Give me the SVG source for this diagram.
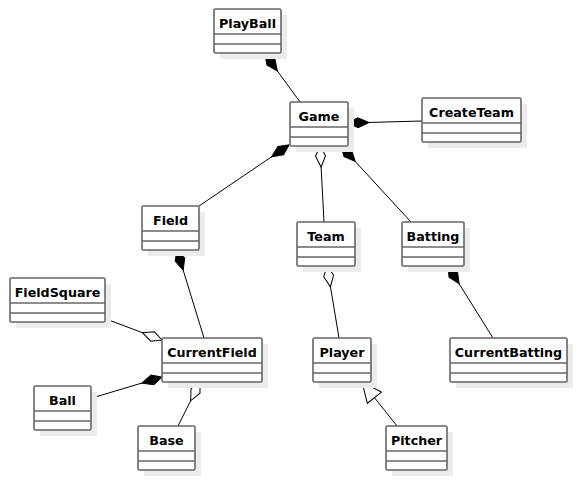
<svg xmlns="http://www.w3.org/2000/svg" width="577" height="480" viewBox="0 0 577 480">
<style>
.shadow{fill:#ebebeb;stroke:none}
.box{fill:#ffffff;stroke:#666666;stroke-width:1.6}
.sep{stroke:#666666;stroke-width:1.6}
.title{font-family:"DejaVu Sans",sans-serif;font-weight:bold;font-size:12.7px;fill:#000;text-anchor:middle}
.conn{stroke:#000;stroke-width:1;fill:none}
.comp{marker-start:url(#comp)}
.aggr{marker-start:url(#aggr)}
.gen{marker-start:url(#gen)}
</style>
<defs>
<marker id="comp" markerUnits="userSpaceOnUse" markerWidth="30" markerHeight="30" refX="5" refY="15" orient="auto" overflow="visible">
<path d="M5,15 L15,10 L26,15 L15,20 Z" fill="#000" stroke="#000" stroke-width="1"/>
</marker>
<marker id="aggr" markerUnits="userSpaceOnUse" markerWidth="30" markerHeight="30" refX="5" refY="15" orient="auto" overflow="visible">
<path d="M5,15 L15,10 L26,15 L15,20 Z" fill="#fff" stroke="#000" stroke-width="1"/>
</marker>
<marker id="gen" markerUnits="userSpaceOnUse" markerWidth="30" markerHeight="30" refX="5" refY="15" orient="auto" overflow="visible">
<path d="M5,15 L25,6 L25,24 Z" fill="#fff" stroke="#000" stroke-width="1"/>
</marker>
</defs>
<g id="connectors">
<path class="conn comp" d="M265,54 L300,102"/>
<path class="conn comp" d="M348,123 L422,121"/>
<path class="conn comp" d="M289,145 L199,206"/>
<path class="conn aggr" d="M320,146 L324,222"/>
<path class="conn comp" d="M341,146 L411,222"/>
<path class="conn comp" d="M177,250 L204,338"/>
<path class="conn aggr" d="M162,340 L106,319"/>
<path class="conn comp" d="M162,377 L92,398"/>
<path class="conn aggr" d="M200,382 L178,426"/>
<path class="conn aggr" d="M327,266 L339,338"/>
<path class="conn comp" d="M448,266 L493,338"/>
<path class="conn gen" d="M362,382 L397,426"/>
</g>
<g id="PlayBall"><rect class="shadow" x="220" y="15" width="67" height="44"/><rect class="box" x="214" y="9" width="67" height="44" rx="1.5"/><line class="sep" x1="214" y1="34" x2="281" y2="34"/><line class="sep" x1="214" y1="44" x2="281" y2="44"/><text class="title" x="247.5" y="27.5">PlayBall</text></g>
<g id="Game"><rect class="shadow" x="296" y="108" width="58" height="44"/><rect class="box" x="290" y="102" width="58" height="44" rx="1.5"/><line class="sep" x1="290" y1="127" x2="348" y2="127"/><line class="sep" x1="290" y1="137" x2="348" y2="137"/><text class="title" x="319" y="120.5">Game</text></g>
<g id="CreateTeam"><rect class="shadow" x="428" y="104" width="99" height="44"/><rect class="box" x="422" y="98" width="99" height="44" rx="1.5"/><line class="sep" x1="422" y1="123" x2="521" y2="123"/><line class="sep" x1="422" y1="133" x2="521" y2="133"/><text class="title" x="471.5" y="116.5">CreateTeam</text></g>
<g id="Field"><rect class="shadow" x="148" y="212" width="57" height="44"/><rect class="box" x="142" y="206" width="57" height="44" rx="1.5"/><line class="sep" x1="142" y1="231" x2="199" y2="231"/><line class="sep" x1="142" y1="241" x2="199" y2="241"/><text class="title" x="170.5" y="224.5">Field</text></g>
<g id="Team"><rect class="shadow" x="303" y="228" width="58" height="44"/><rect class="box" x="297" y="222" width="58" height="44" rx="1.5"/><line class="sep" x1="297" y1="247" x2="355" y2="247"/><line class="sep" x1="297" y1="257" x2="355" y2="257"/><text class="title" x="326" y="240.5">Team</text></g>
<g id="Batting"><rect class="shadow" x="408" y="228" width="62" height="44"/><rect class="box" x="402" y="222" width="62" height="44" rx="1.5"/><line class="sep" x1="402" y1="247" x2="464" y2="247"/><line class="sep" x1="402" y1="257" x2="464" y2="257"/><text class="title" x="433" y="240.5">Batting</text></g>
<g id="FieldSquare"><rect class="shadow" x="16" y="284" width="95" height="44"/><rect class="box" x="10" y="278" width="95" height="44" rx="1.5"/><line class="sep" x1="10" y1="303" x2="105" y2="303"/><line class="sep" x1="10" y1="313" x2="105" y2="313"/><text class="title" x="57.5" y="296.5">FieldSquare</text></g>
<g id="CurrentField"><rect class="shadow" x="168" y="344" width="100" height="44"/><rect class="box" x="162" y="338" width="100" height="44" rx="1.5"/><line class="sep" x1="162" y1="363" x2="262" y2="363"/><line class="sep" x1="162" y1="373" x2="262" y2="373"/><text class="title" x="212" y="356.5">CurrentField</text></g>
<g id="Player"><rect class="shadow" x="319" y="344" width="58" height="44"/><rect class="box" x="313" y="338" width="58" height="44" rx="1.5"/><line class="sep" x1="313" y1="363" x2="371" y2="363"/><line class="sep" x1="313" y1="373" x2="371" y2="373"/><text class="title" x="342" y="356.5">Player</text></g>
<g id="CurrentBatting"><rect class="shadow" x="456" y="344" width="117" height="44"/><rect class="box" x="450" y="338" width="117" height="44" rx="1.5"/><line class="sep" x1="450" y1="363" x2="567" y2="363"/><line class="sep" x1="450" y1="373" x2="567" y2="373"/><text class="title" x="508.5" y="356.5">CurrentBatting</text></g>
<g id="Ball"><rect class="shadow" x="40" y="392" width="57" height="44"/><rect class="box" x="34" y="386" width="57" height="44" rx="1.5"/><line class="sep" x1="34" y1="411" x2="91" y2="411"/><line class="sep" x1="34" y1="421" x2="91" y2="421"/><text class="title" x="62.5" y="404.5">Ball</text></g>
<g id="Base"><rect class="shadow" x="144" y="432" width="57" height="44"/><rect class="box" x="138" y="426" width="57" height="44" rx="1.5"/><line class="sep" x1="138" y1="451" x2="195" y2="451"/><line class="sep" x1="138" y1="461" x2="195" y2="461"/><text class="title" x="166.5" y="444.5">Base</text></g>
<g id="Pitcher"><rect class="shadow" x="392" y="432" width="61" height="44"/><rect class="box" x="386" y="426" width="61" height="44" rx="1.5"/><line class="sep" x1="386" y1="451" x2="447" y2="451"/><line class="sep" x1="386" y1="461" x2="447" y2="461"/><text class="title" x="416.5" y="444.5">Pitcher</text></g>
</svg>
